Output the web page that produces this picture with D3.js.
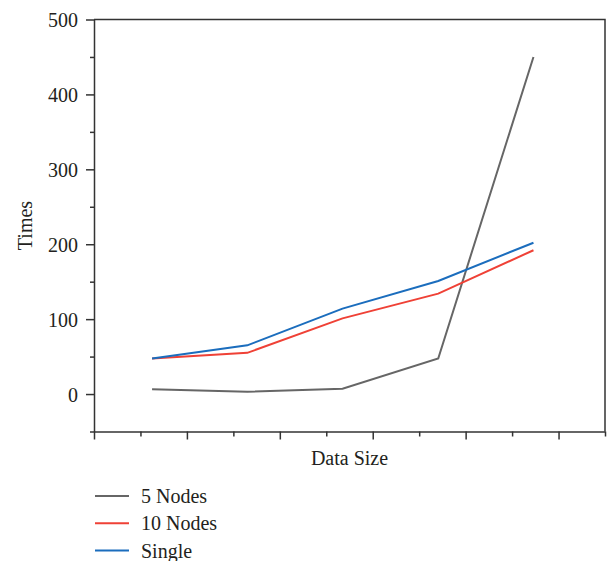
<!doctype html>
<meta charset="utf-8">
<style>
  body { margin: 0; background: #fff; }
  svg text { font-family: "Liberation Serif", "DejaVu Serif", serif; fill: #231f20; }
  .axis path, .axis line { stroke: #333; stroke-width: 1.5; }
</style>
<svg id="chart" width="609" height="561"></svg>
<script src="https://d3js.org/d3.v7.min.js"></script>
<script>
  // data
  const sizes = [0.625, 1.65, 2.675, 3.705, 4.73];
  const nodes5 = [6.5, 3, 7, 47.5, 450];
  const nodes10 = [47.5, 55, 101, 134, 192];
  const single = [47.5, 65, 114, 151, 202];
  const seriesNames = ["5 Nodes", "10 Nodes", "Single"];
  const colours = ["#666666", "#ef4136", "#1b6dbd"];
  const yTicks = [0, 100, 200, 300, 400, 500];

  const series = [nodes5, nodes10, single];

  const svg = d3.select("#chart");
  const mLeft = 94, mRight = 605, mTop = 19.5, mBottom = 431.5;

  const x = d3.scaleLinear().domain([0, 5.5]).range([mLeft, mRight]);
  const y = d3.scaleLinear().domain([-50, 500]).range([mBottom, mTop]);

  // frame (top + right)
  svg.append("path")
    .attr("d", `M${mLeft},${mTop}H${mRight}V${mBottom}`)
    .attr("fill", "none").attr("stroke", "#333").attr("stroke-width", 1.5);

  // y axis: major ticks labelled, minor ticks at 50s
  const yAxis = svg.append("g").attr("class", "axis")
    .attr("transform", `translate(${mLeft},0)`)
    .call(d3.axisLeft(y).tickValues(yTicks).tickSize(8).tickPadding(8).tickSizeOuter(0));
  yAxis.selectAll("text").attr("font-size", 20).attr("dy", "0.35em");
  svg.append("g").attr("class", "axis")
    .attr("transform", `translate(${mLeft},0)`)
    .call(d3.axisLeft(y).tickValues(d3.range(-50, 500, 100)).tickSize(4).tickFormat("").tickSizeOuter(0))
    .select(".domain").remove();

  // x axis: unlabelled ticks
  svg.append("g").attr("class", "axis")
    .attr("transform", `translate(0,${mBottom})`)
    .call(d3.axisBottom(x).tickValues(d3.range(0, 6, 1)).tickSize(8).tickFormat("").tickSizeOuter(0));
  svg.append("g").attr("class", "axis")
    .attr("transform", `translate(0,${mBottom})`)
    .call(d3.axisBottom(x).tickValues(d3.range(0.5, 6, 1)).tickSize(5).tickFormat("").tickSizeOuter(0))
    .select(".domain").remove();

  // axis titles
  svg.append("text")
    .attr("transform", `translate(32,${(mTop + mBottom) / 2}) rotate(-90)`)
    .attr("text-anchor", "middle").attr("font-size", 20)
    .text("Times");
  svg.append("text")
    .attr("x", (mLeft + mRight) / 2).attr("y", 465)
    .attr("text-anchor", "middle").attr("font-size", 20)
    .text("Data Size");

  // lines
  const line = d3.line().x((d, i) => x(sizes[i])).y(d => y(d));
  svg.selectAll(".series")
    .data(series)
    .enter()
    .append("path")
    .attr("class", "series")
    .attr("d", line)
    .attr("fill", "none")
    .attr("stroke", (d, i) => colours[i])
    .attr("stroke-width", 2);

  // legend
  const legend = svg.selectAll(".legend")
    .data(seriesNames)
    .enter()
    .append("g")
    .attr("class", "legend")
    .attr("transform", (d, i) => `translate(95,${496 + i * 27.3})`);
  legend.append("line")
    .attr("x1", 0).attr("x2", 34)
    .attr("stroke", (d, i) => colours[i]).attr("stroke-width", 2);
  legend.append("text")
    .attr("x", 46).attr("dy", "0.35em").attr("font-size", 20)
    .text(d => d);
</script>
